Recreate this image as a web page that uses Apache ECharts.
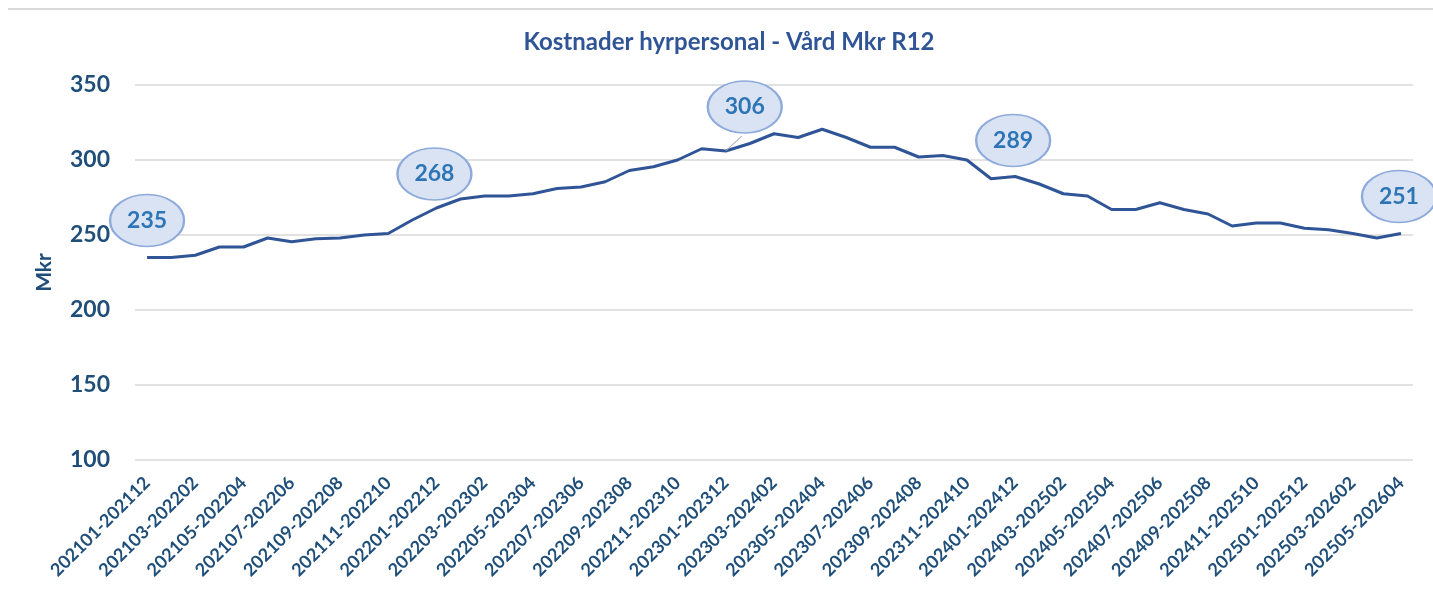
<!DOCTYPE html>
<html>
<head>
<meta charset="utf-8">
<title>Kostnader hyrpersonal</title>
<script src="https://cdn.jsdelivr.net/npm/echarts@6/dist/echarts.min.js"></script>
<style>
  html, body { margin: 0; padding: 0; background: #fff; }
  #main { width: 1433px; height: 605px; }
</style>
</head>
<body>
<div id="main"></div>
<script>
// rullande 12 manader
var categories = [
  '202101-202112', '202102-202201', '202103-202202', '202104-202203', '202105-202204', '202106-202205',
  '202107-202206', '202108-202207', '202109-202208', '202110-202209', '202111-202210', '202112-202211',
  '202201-202212', '202202-202301', '202203-202302', '202204-202303', '202205-202304', '202206-202305',
  '202207-202306', '202208-202307', '202209-202308', '202210-202309', '202211-202310', '202212-202311',
  '202301-202312', '202302-202401', '202303-202402', '202304-202403', '202305-202404', '202306-202405',
  '202307-202406', '202308-202407', '202309-202408', '202310-202409', '202311-202410', '202312-202411',
  '202401-202412', '202402-202501', '202403-202502', '202404-202503', '202405-202504', '202406-202505',
  '202407-202506', '202408-202507', '202409-202508', '202410-202509', '202411-202510', '202412-202511',
  '202501-202512', '202502-202601', '202503-202602', '202504-202603', '202505-202604'
];

var kostnad = [
  235, 235, 236.5, 242, 242, 248, 245.5, 247.5, 248, 250, 251, 260,
  268, 274, 276, 276, 277.5, 281, 282, 285.5, 293, 295.5, 300, 307.5,
  306, 311, 317.5, 315, 320.5, 315, 308.5, 308.5, 302, 303, 300, 287.5,
  289, 284, 277.5, 276, 267, 267, 271.5, 267, 264, 256, 258, 258,
  254.5, 253.5, 251, 248, 251
];

// punkter med pratbubbla
var calloutIdx = [0, 12, 24, 36, 52];
var calloutText = ['235', '268', '306', '289', '251'];

var yTicks = { min: 100, max: 350, step: 50 };

var darkBlue = '#1f4e79';
var font = 'Lato, "Liberation Sans", sans-serif';

// forskjutning av bubblorna (px)
var calloutOffset = [[0, -37], [-2, -34], [19, -44], [-2, -36], [-2, -37]];

var markData = [];
for (var i = 0; i < calloutIdx.length; i++) {
  var k = calloutIdx[i];
  markData.push({
    coord: [categories[k], kostnad[k]],
    value: calloutText[i],
    symbolOffset: calloutOffset[i]
  });
}
// liten ledlinje till 306
markData.push({
  coord: [categories[24], kostnad[24]],
  symbol: 'path://M0,15 L16,0',
  symbolSize: [16, 15],
  symbolOffset: [8, -7.5],
  itemStyle: { color: 'none', borderColor: '#a6a6a6', borderWidth: 1 },
  label: { show: false },
  z: 1
});

var myChart = echarts.init(document.getElementById('main'));

var option = {
  backgroundColor: '#fff',
  animation: false,
  title: {
    text: 'Kostnader hyrpersonal - Vård Mkr R12',
    left: 724,
    textAlign: 'center',
    top: 25,
    textStyle: { fontFamily: font, fontSize: 24, fontWeight: 'bold', color: '#2f5597' }
  },
  graphic: [{
    type: 'line',
    shape: { x1: 8, y1: 9, x2: 1433, y2: 9 },
    style: { stroke: '#d9d9d9', lineWidth: 2 }
  }],
  grid: { left: 135, right: 20, top: 85, bottom: 145 },
  xAxis: {
    type: 'category',
    data: categories,
    boundaryGap: true,
    axisLine: { show: false },
    axisTick: { show: false },
    axisLabel: {
      interval: 1,
      rotate: 45,
      margin: 20,
      fontFamily: font,
      fontSize: 18,
      fontWeight: 'bold',
      color: darkBlue
    }
  },
  yAxis: {
    type: 'value',
    min: yTicks.min,
    max: yTicks.max,
    interval: yTicks.step,
    name: 'Mkr',
    nameLocation: 'middle',
    nameGap: 80,
    nameTextStyle: { fontFamily: font, fontSize: 21, fontWeight: 'bold', color: darkBlue },
    axisLine: { show: false },
    axisTick: { show: false },
    axisLabel: { margin: 25, fontFamily: font, fontSize: 23, fontWeight: 'bold', color: darkBlue },
    splitLine: { lineStyle: { color: '#d9d9d9', width: 1.5 } }
  },
  series: [{
    name: 'Kostnader hyrpersonal',
    type: 'line',
    data: kostnad,
    showSymbol: false,
    lineStyle: { color: '#2f5597', width: 3 },
    itemStyle: { color: '#2f5597' },
    markPoint: {
      symbol: 'path://M0,50 A50,50 0 1,1 100,50 A50,50 0 1,1 0,50 Z',
      symbolSize: [74, 52],
      itemStyle: { color: '#dae3f3', borderColor: '#8eaadb', borderWidth: 2 },
      label: {
        show: true,
        position: 'inside',
        fontFamily: font,
        fontSize: 23,
        fontWeight: 'bold',
        color: '#2e75b6'
      },
      data: markData
    }
  }]
};

myChart.setOption(option);
</script>
</body>
</html>
